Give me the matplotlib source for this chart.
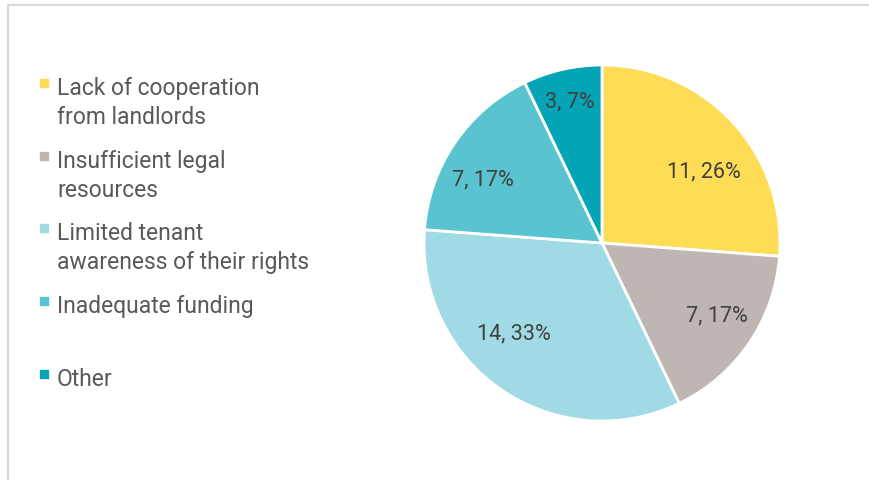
import numpy as np
import matplotlib.pyplot as plt
from matplotlib.lines import Line2D

plt.rcParams['font.family'] = ['Roboto', 'DejaVu Sans']

categories = ['Lack of cooperation\nfrom landlords',
              'Insufficient legal\nresources',
              'Limited tenant\nawareness of their rights',
              'Inadequate funding',
              'Other']
counts = [11, 7, 14, 7, 3]
colors = ['#FFDC55', '#BEB6B3', '#A0DAE5', '#59C4CF', '#04A4B7']

W, H = 870, 481
fig = plt.figure(figsize=(W / 100, H / 100), dpi=100)

# frame of the original chart area (cropped on right / bottom)
fig.add_artist(Line2D([8.5 / W, 8.5 / W], [0, 1 - 5.5 / H], transform=fig.transFigure,
                      color='#d9d9d9', lw=1.5))
fig.add_artist(Line2D([8.5 / W, 1], [1 - 5.5 / H, 1 - 5.5 / H], transform=fig.transFigure,
                      color='#d9d9d9', lw=1.5))

# pie
cx, cy, r = 602, 244, 178
ax = fig.add_axes([(cx - r) / W, (H - cy - r) / H, 2 * r / W, 2 * r / H])
wedges, _ = ax.pie(counts, colors=colors, startangle=90, counterclock=False,
                   wedgeprops=dict(edgecolor='white', linewidth=2))
ax.set_xlim(-1, 1)
ax.set_ylim(-1, 1)
ax.set_aspect('auto')
ax.axis('off')

# data labels ("best fit" style: radius fraction, angle shift from wedge middle)
total = sum(counts)
dist = [0.70, 0.76, 0.71, 0.76, 0.82]
shift = [-7.5, 2.4, -10.2, 5.8, 0.0]
for w, n, d, s in zip(wedges, counts, dist, shift):
    ang = np.deg2rad((w.theta1 + w.theta2) / 2 + s)
    ax.text(d * np.cos(ang), d * np.sin(ang), f'{n}, {round(100 * n / total)}%',
            ha='center', va='center', fontsize=15.5, color='#404040')

# legend drawn by hand to mimic the original layout
base = [95, 168, 240, 313, 386]
for lab, col, y in zip(categories, colors, base):
    for k, line in enumerate(lab.split('\n')):
        fig.text(57 / W, 1 - (y + 29 * k) / H, line, ha='left', va='baseline',
                 fontsize=16.5, color='#595959')
    fig.add_artist(Line2D([44 / W], [1 - (y - 11) / H], transform=fig.transFigure,
                          marker='s', markersize=6, color=col, lw=0))

fig.savefig('out.png', dpi=100)
